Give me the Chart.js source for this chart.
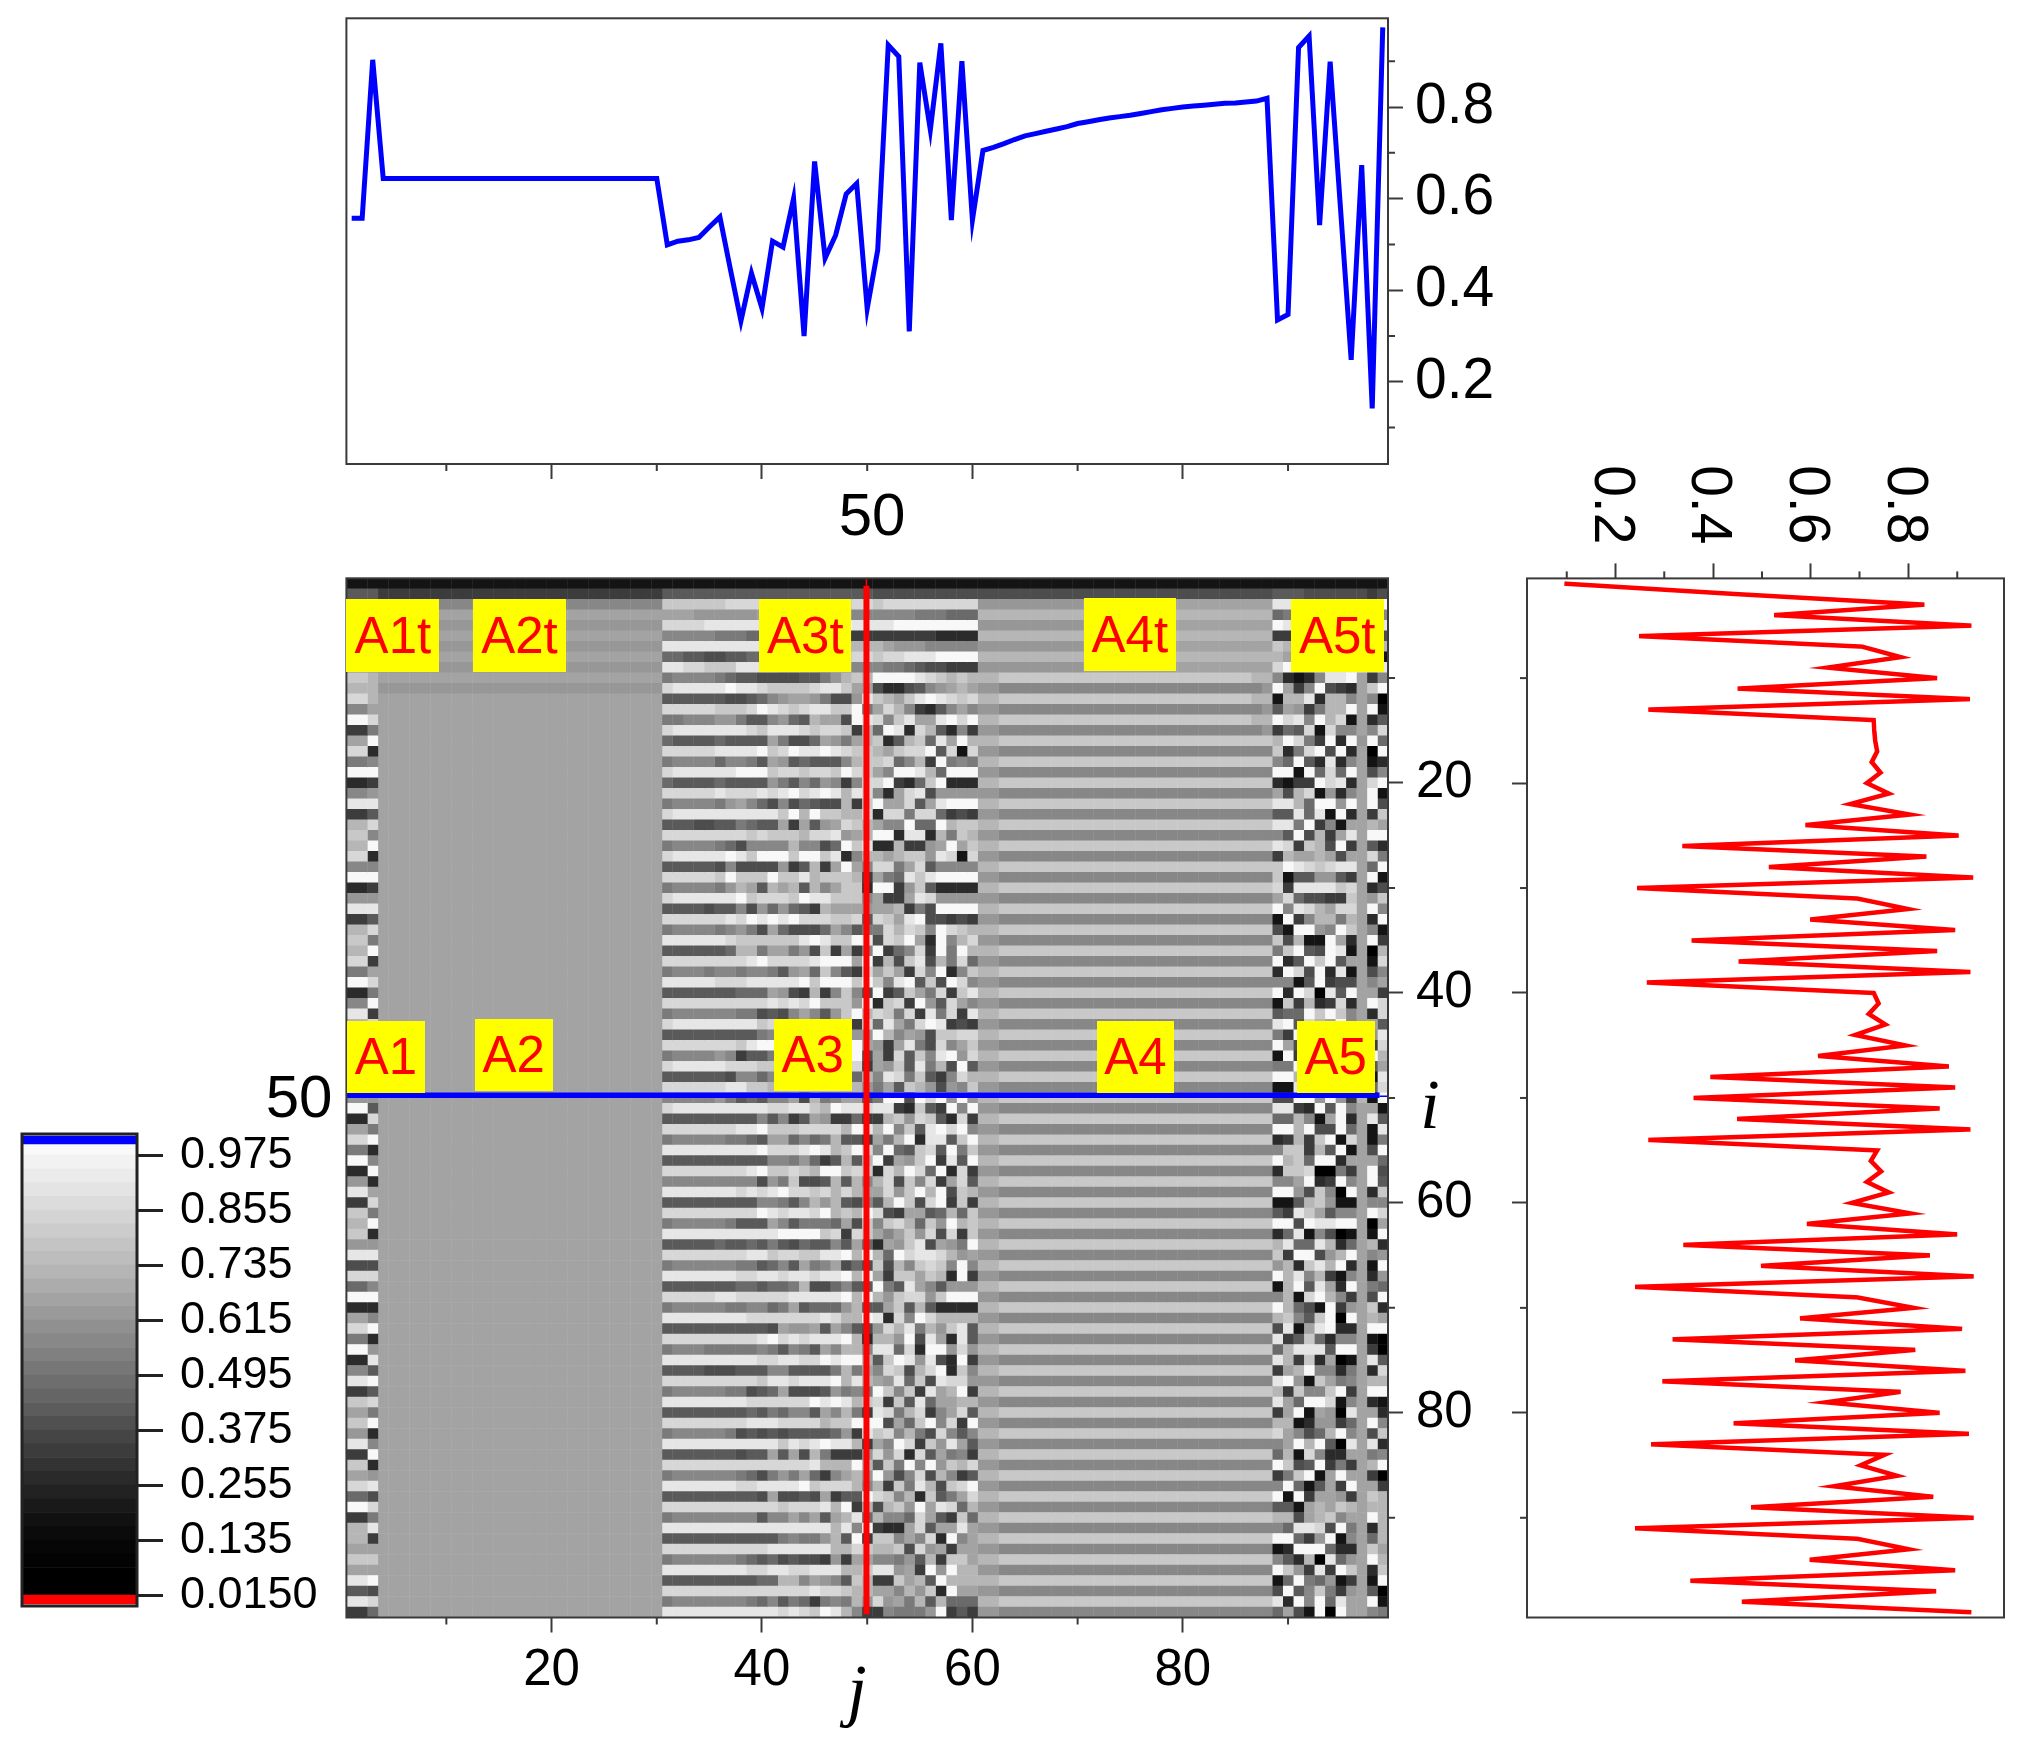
<!DOCTYPE html>
<html>
<head>
<meta charset="utf-8">
<title>j-i map</title>
<script src="https://cdn.jsdelivr.net/npm/chart.js@4/dist/chart.umd.min.js"></script>
<style>
  html, body { margin: 0; padding: 0; background: #fff; }
  #page { position: relative; width: 2032px; height: 1744px; overflow: hidden; font-family: "Liberation Sans", Arial, sans-serif; }
  canvas { position: absolute; }
  .tag { position: absolute; background: #ff0; color: #f00; font-size: 51px; text-align: center; z-index: 3; }
  .txt { position: absolute; color: #000; text-align: center; z-index: 3; white-space: nowrap; }
  .var { font-family: "Liberation Serif", serif; font-style: italic; }
</style>
</head>
<body>
<div id="page">
  <canvas id="top"></canvas>
  <canvas id="map"></canvas>
  <canvas id="side"></canvas>
  <canvas id="bar"></canvas>
</div>
<script>
// ---------- data ----------
const topJ = [1,2,3,4,5,6,7,8,9,10,11,12,13,14,15,16,17,18,19,20,21,22,23,24,25,26,27,28,29,30,31,32,33,34,35,36,37,38,39,40,41,42,43,44,45,46,47,48,49,50,51,52,53,54,55,56,57,58,59,60,61,62,63,64,65,66,67,68,69,70,71,72,73,74,75,76,77,78,79,80,81,82,83,84,85,86,87,88,89,90,91,92,93,94,95,96,97,98,99];
const topValues = [
  .557,.557,.903,.644,.644,.644,.644,.644,.644,.644,
  .644,.644,.644,.644,.644,.644,.644,.644,.644,.644,
  .644,.644,.644,.644,.644,.644,.644,.644,.644,.644,
  .499,.507,.510,.515,.538,.560,.445,.333,.437,.360,
  .507,.494,.600,.300,.681,.470,.520,.610,.633,.360,
  .488,.935,.910,.310,.897,.750,.939,.553,.900,.553,
  .705,.712,.720,.729,.737,.742,.747,.752,.757,.764,
  .768,.772,.776,.779,.782,.786,.790,.794,.797,.800,
  .802,.804,.806,.808,.809,.811,.813,.819,.335,.347,
  .930,.955,.542,.899,.574,.248,.673,.142,.974];

const sideI = topJ;
const sideValues = [
  .095,.449,.833,.525,.929,.248,.705,.784,.634,.859,
  .450,.926,.267,.729,.730,.732,.736,.725,.743,.715,
  .760,.681,.803,.589,.903,.337,.837,.514,.933,.244,
  .695,.799,.599,.896,.356,.859,.452,.927,.264,.729,
  .739,.719,.753,.691,.794,.615,.883,.394,.896,.360,
  .864,.449,.927,.267,.736,.723,.744,.715,.760,.684,
  .804,.592,.900,.339,.844,.498,.934,.240,.695,.811,
  .578,.910,.317,.814,.568,.917,.296,.784,.631,.864,
  .442,.924,.273,.751,.702,.777,.647,.851,.478,.934,
  .240,.695,.801,.598,.896,.353,.857,.459,.929];

// the two section lines on the map, each with a thin stub at its far end
const sectionRowAt = 49.75;
const sectionRowFrom = [0.5, 98.7];
const sectionRowStub = [98.7, 99.5];
const sectionColAt = 49.93;
const sectionColFrom = [1.2, 99.2];
const sectionColStub = [0.5, 1.2];

const majorTicks = [20, 40, 60, 80];
const minorTicks = [10, 30, 50, 70, 90];
const valueTicks = [0.2, 0.4, 0.6, 0.8];
const valueMinor = [0.1, 0.3, 0.5, 0.7, 0.9];

// colour bar
const barTickValues = [0.975, 0.855, 0.735, 0.615, 0.495, 0.375, 0.255, 0.135, 0.015];
const barTickLabels = ["0.975", "0.855", "0.735", "0.615", "0.495", "0.375", "0.255", "0.135", "0.0150"];
const barEdges = [0.015,0.045,0.075,0.105,0.135,0.165,0.195,0.225,0.255,0.285,0.315,0.345,0.375,0.405,0.435,0.465,0.495,0.525,0.555,0.585,0.615,0.645,0.675,0.705,0.735,0.765,0.795,0.825,0.855,0.885,0.915,0.945,0.975,0.999];
const barGrays = ["#000000","#000000","#030303","#060606","#0b0b0b","#111111","#191919","#222222","#2a2a2a","#333333","#3c3c3c","#454545","#505050","#5c5c5c","#656565","#6e6e6e","#777777","#808080","#888888","#909090","#9a9a9a","#a3a3a3","#acacac","#b5b5b5","#bdbdbd","#c4c4c4","#cccccc","#d4d4d4","#dcdcdc","#e4e4e4","#ebebeb","#f2f2f2","#f9f9f9","#ffffff"];
const barOver = [0.999, 1.0165];
const barUnder = [-0.0046, 0.015];

// grey steps used by the map cells, one hex digit per cell below
const grayLevels = ["#000000","#141414","#2b2b2b","#3c3c3c","#4d4d4d","#5a5a5a","#6a6a6a","#7a7a7a","#878787","#979797","#a3a3a3","#b6b6b6","#c8c8c8","#d7d7d7","#e6e6e6","#f8f8f8"];

// j = 1..3, one token per row i
const levelsA1 = ("111 555 888 aaa 999 aaa 999 aaa 999 ccb " +
  "bbb ddb 88a ffd 337 aaf dd2 778 fff 223 " +
  "889 eee 335 bbd cc8 bbf dd2 888 fff 223 " +
  "999 eee 335 bbd cc7 bbf dd3 77a ffd 227 " +
  "88f ee3 bbd 778 ffe 333 bbc 99a dd7 999 " +
  "ff5 22d aa7 ddf 772 ff8 22f 992 eea 33d " +
  "cc7 bbf cc2 999 eee 444 ddd 668 fff 222 " +
  "aa8 ddf 772 ff9 22e 885 eef 335 ccd aa7 " +
  "ccf 992 ee8 33f cc2 aa9 dde 664 ffd 337 " +
  "bbe bb3 aaa ccc aaa eef 554 eed 336").split(" ");

// j = 4..30
const levelsA2Top = "138a9a9a9a9a";
const levelA2Plateau = "a";

// j = 31..60, one string per row i
const levelsA3 = [
  "111111111111111111111111111111",
  "555555555555555555554444444444",
  "ccccccdddddddddcccddcddddddddd",
  "aaa999999aaa9a98a9888888777666",
  "ddddeeeeeeeedeeedfeeeeffffffff",
  "888887776654444443333333332222",
  "eeeeeeeeeeedcddccbbbba99988888",
  "66554455664566799cddcddeeeffff",
  "eeddccceeeeddccbba888776544333",
  "78888765544445579bcbffffedcbcb",
  "deeeeefeedccccdeecaa4224589aba",
  "555555445689aa97449ecbacefedcd",
  "dddddcccdfedcdeeccf7adb83258a8",
  "77888997558965baa4fed8ceaaefdf",
  "deeeeeeedceeedcddc3b6fe2db5283",
  "6555565555a7446a97abc25bc6eafb",
  "dddddeeeefcdfeefedccbacddf5d1d",
  "7888868875a9565558bccd68b3f787",
  "deeeeeefffcddcddcfdca8ffeb6fff",
  "6555565555975869838ddf326cf222",
  "dddddedddedefdefebed82ade49999",
  "7888879a864846544b3cfaad5aefff",
  "deeeeeeeeeecfbfccbbd2dd7dd6343",
  "55544557655a3a59adcba88f66fbcc",
  "ddddddddcdcccbdde9abff2ee2b7cb",
  "788887648888b8846fce22b339afac",
  "deeeeefecfffcffce28bbabcc9ed1d",
  "55555484444935b3afa8dd7ad58888",
  "dddddcfcccfccebcccb3a76eceffff",
  "7888879ba5bab5b8acc2ff39c52222",
  "deeeeeefcdddcfeeccc8a33aed9999",
  "555545584969653baaa9aab374ffff",
  "ddddddedfefefdddccd5dcaef44343",
  "7888878974a64446a8577dbdc8fdcb",
  "eeeeeedccccccefeccfe4dcfa2f8bd",
  "5555556bb7aa794c3a38f368d3f7fb",
  "ddddddddefddddefffaf3b4ce4b7d6",
  "7888788788759a6c853daca3d8f28c",
  "eeeeedddeeeeefcfffcfc8ef5c4fd8",
  "5555555666a943b38c84f35ca7d3ce",
  "ddddddddddededfccc9f2cd3f95da8",
  "7888888774548a859cfbdc7d3e7d3e",
  "deeeeeeeecdccccccc3d6ea7dfe343",
  "55555555578799999999fb8a94ccdd",
  "dddddddceffffffffffa93ae74d8ac",
  "788889835577777777f4a3d5c8ef9d",
  "deeeeedddcccccccccd3a9c5e7b4f5",
  "55555548868888888a6b8ed7c538db",
  "ddddddeeccbbbbbbbbb97a5cb9498c",
  "888889756588a4b78aa57ff4fdf9f9",
  "deeeeeeeeeddeecbfeedee32c53f8f",
  "55555555585835a933633bc9dc52d3",
  "dddddddeefcccddddbfebf8c5efdf8",
  "7888887765aa6867b553a7bf2ee5cf",
  "eeeeeeeeefdddefebcfd8f65cd5f7c",
  "55555555558879635b5bf3a9cf3e5f",
  "ddddddddefccdcbffcdc2dbfd6f2d3",
  "888888888497c445b5b8bd4c8d3ad5",
  "eeeeeeededefddcdbdbaad9cfbf4cb",
  "55555555588758b9b5485bfc4df3c3",
  "dddddddddfedeedfbcbfd43aa56b6c",
  "7888887555a857776a4c8cdb6c9fbc",
  "eeeeeeeeeeeffffcd3dca8ac9d4d3c",
  "555556556575465585a62a9ce4a97f",
  "ddddddddeecddcceefbfb6fdeedb9a",
  "7888888775685a78a464c4b8cdc8f8",
  "eeeeeeeddeedeedeefbfa3ccacb2f3",
  "5555555665667b446855f75ea85999",
  "dddddeedddddeeeeefbfb9cdd9cfff",
  "788888778867a56669b55ac5b52222",
  "eeeeeeeedddddddedbbfe2d8fdbbbb",
  "55555555554a99a5a8549dbe7b9ce5",
  "dddddddddefdedeeefb2bb9f4ea2e5",
  "788877777875875a8bb8ee6d2ff9d9",
  "eeeeeeeeeddeeddfeffb5cfe9e42f3",
  "55554445558855557b7a8dc4bdf2c8",
  "dddddddddceedeeefbeba9e6c4edd9",
  "78888877456a44459787fc8c3eabf3",
  "eeeeeeeeddddddfefebcd3c5e6aabb",
  "555555556576885a8b73ed7bd38ad5",
  "ddddddddeeeddddbccfff4a6cf8d3f",
  "7888887454545555693ecd8b74d858",
  "eeeeeeeeeeecedefeeb3a8fd3c9ea5",
  "5555555455a5a4b73339d9d2d5a783",
  "ddddddddddddddebbbfb5c7f8f9cbd",
  "7888888764797a638ab9f948d4b835",
  "eeeeeeeddeeeefcdddb8b3c7eb4cdf",
  "5555555554a4454a355fdc8b2c57ad",
  "dddddddddddcdddebf3b4bc9faed6b",
  "788888888588a8a5abe6b886da53c6",
  "eeeeeeeeeeeeeeeebe8f322ad5aaea",
  "5555555555578779b5f3cc8a8d2f8a",
  "ddddddddddeeeeeebbdcbbc4d9a3aa",
  "788888876564544393aa88795b3cca",
  "eeeeeeeeddeeddeeebbcee9a3f9fbb",
  "55555555566bb8a985cb33cab5fbbb",
  "ddddddddddddddeddcbbaa8b9c2faa",
  "788888887685763787b9d9a7b5b666",
  "eeeeeeeeeeededcfeb83387779f353"
];

// j = 61..88, stripes that run the whole block; rowsA4 picks one per row i
const stripesA4 = [
  "1111111111111111111111111111",
  "4444444444444444444444444444",
  "9999999999aaaaaaaaaaaaaaaaaa",
  "bbbbbbbbbbbbbbbbbbbbbbbbbbbb",
  "bbccccccccccccccccccccccccbb",
  "9988888888888888888888888889",
  "bbcccccccccccccccccccccccccc",
  "9988888888888888888888888888"
];
const rowsA4 = "012323232" + "454545" +
  "67676767676767676767" +
  "67676767676767676767" +
  "67676767676767676767" +
  "67676767676767676767" +
  "6767";

// j = 89..99, one string per row i
const levelsA5 = [
  "11111111111","55544444434","eefffffffff","67888888888","feeeeeeeeee","33444444444","cbbbbbbbbbb","baaaaaaaaa1","dfeeeeeeeee","82128eefa38",
  "fa38f432acf","1bbe2bb8a80","5a937bbfaf1","fde8fbd1a25","365d1d88a8d","bfd73f2f9f6","c27df4f2a0f","86f52e28a12","ff1f6d6fa48","2133fde2adf",
  "a4bd1928af1","eeb6ff9faf4","55e6e1f2a3c","ee7f381aaba","85f4b3aeaff","ed3cb4f3a52","3baaba4aad7","cfedcdeea6f","c1559953af1","d3eeeecda24",
  "ad64433ca9c","f8edbaddaf8","1f38bb7ba2f","41ff98fca81","c4b11fa2af3","7cf54fe1a0b","f25fcf5aa1d","2fd4f2e1a48","8815f344a8a","f2fd0e5faa3",
  "1c3b23d2afd","566fcfc8a2d","ef5dbaf8aa5","73f29dcfa9e","fa44dc2aa3d","1f3dcf7aafb","77fa48dfa5a","ffb5f2eaa1e","11e7c9f4a6d","44ff9f93b1f",
  "ee32f5f8aa1","66b81af2ae5","ffbf44f6a1e","23b3cf1da17","8cc3b5f1a4f","fbc6ff2aaa6","2ccd0073af4","88af23f8af5","ff94c80fa2c","115bc911a88",
  "53eca588afd","ff4feeffa0a","26e18401a1f","be66eb26ab2","c3ff49bfa89","9b2cebf2a1f","fbe8b318a29","1bf5ea2fa76","8b1dfb83a4f","fb641f39ac2",
  "bc85cf0faba","4e1aef22aff","e35c6288a10","6beee5ffa30","eb3c2a01ae5","3abf8827a2d","ef91ca78abb","b3c88cf3aff","ea6ffd18a21","3af1a90eaa2",
  "bb129936af8","da846bf8a4c","8afbf50eae2","6b1d822aa78","fc45f373abf","37cf1afaa30","8f615a3faa3","f1f3aa93acb","551abacbabb","bb4abc8aafb",
  "86eed4f7a2b","ff639f18a6b","12fff622aca","852b0e69afb","fc93e3fca2c","16f76913a1f","4f58c739a50","e2f8f6eaaf1","6a41f0faa87"
];

// ---------- helpers ----------
const axisColor = "#3a3a3a";
const BLUE = "#0000ff";
const RED = "#ff0000";
const page = document.getElementById("page");

Chart.defaults.font.family = '"Liberation Sans", Arial, sans-serif';
Chart.defaults.color = "#000";

function fixedTicks(values) {
  return (s) => {
    s.ticks = values.map((v) => ({ value: v }));
  };
}
// fix the room an axis takes, and stop it pushing the plot in for half a label
function fixedSize(prop, size) {
  return (s) => {
    s[prop] = size;
    s.paddingTop = s.paddingBottom = s.paddingLeft = s.paddingRight = 0;
  };
}
function placeCanvas(id, x, y, w, h) {
  const c = document.getElementById(id);
  c.width = w;
  c.height = h;
  c.style.left = x + "px";
  c.style.top = y + "px";
  return c;
}
function cellLevel(i, j) {
  if (j <= 3) return levelsA1[i - 1][j - 1];
  if (j <= 30) return levelsA2Top[i - 1] || levelA2Plateau;
  if (j <= 60) return levelsA3[i - 1][j - 31];
  if (j <= 88) return stripesA4[+rowsA4[i - 1]][j - 61];
  return levelsA5[i - 1][j - 89];
}
function addText(cls, text, cx, cy, size) {
  const d = document.createElement("div");
  d.className = cls;
  d.textContent = text;
  d.style.fontSize = size + "px";
  d.style.lineHeight = size + "px";
  d.style.left = cx - 100 + "px";
  d.style.width = "200px";
  d.style.top = cy - size / 2 + "px";
  page.appendChild(d);
}
function mapLine(points, color, width) {
  return { type: "scatter", data: points, showLine: true, borderColor: color, borderWidth: width, pointRadius: 0 };
}

// box round the plot and the short ticks (Chart.js has one tick length per axis)
const boxAndMinor = {
  id: "boxAndMinor",
  afterDraw(chart, args, o) {
    const { ctx, chartArea: a, scales } = chart;
    ctx.save();
    ctx.strokeStyle = o.color || axisColor;
    ctx.lineWidth = o.width || 2;
    ctx.strokeRect(a.left, a.top, a.right - a.left, a.bottom - a.top);
    ctx.lineWidth = 2;
    ctx.strokeStyle = axisColor;
    ctx.beginPath();
    (o.x || []).forEach((v) => {
      const p = scales.x.getPixelForValue(v);
      ctx.moveTo(p, a.bottom);
      ctx.lineTo(p, a.bottom + 7);
    });
    (o.y || []).forEach((v) => {
      const p = scales.y.getPixelForValue(v);
      const edge = scales.y.position === "left" ? a.left : a.right;
      const dir = scales.y.position === "left" ? -1 : 1;
      ctx.moveTo(edge, p);
      ctx.lineTo(edge + dir * 7, p);
    });
    ctx.stroke();
    ctx.restore();
  },
};

function baseOptions(padding) {
  return {
    responsive: false,
    animation: false,
    events: [],
    layout: { autoPadding: false, padding },
    plugins: { legend: { display: false }, tooltip: { enabled: false } },
  };
}
function tickGrid(len) {
  return {
    offset: false,
    drawOnChartArea: false,
    drawTicks: true,
    tickLength: len,
    tickWidth: 2,
    tickColor: axisColor,
  };
}

// ---------- top profile, row i = 50 ----------
placeCanvas("top", 342, 14, 1170, 470);
new Chart(document.getElementById("top"), {
  type: "scatter",
  data: {
    datasets: [
      {
        data: topJ.map((j, k) => ({ x: j, y: topValues[k] })),
        showLine: true,
        borderColor: BLUE,
        borderWidth: 5,
        pointRadius: 0,
        tension: 0,
      },
    ],
  },
  options: {
    ...baseOptions({ left: 4.4, top: 4.3 }),
    scales: {
      x: {
        type: "linear",
        offset: false,
        min: 0.5,
        max: 99.5,
        afterBuildTicks: fixedTicks(majorTicks),
        afterFit: fixedSize("height", 20),
        ticks: { display: false, autoSkip: false },
        border: { display: false },
        grid: tickGrid(15),
      },
      y: {
        position: "right",
        min: 0.0205,
        max: 0.9937,
        afterBuildTicks: fixedTicks(valueTicks),
        afterFit: fixedSize("width", 124),
        ticks: { autoSkip: false, padding: 12, font: { size: 57 }, callback: (v) => v.toFixed(1) },
        border: { display: false },
        grid: tickGrid(15),
      },
    },
    plugins: {
      legend: { display: false },
      tooltip: { enabled: false },
      boxAndMinor: { x: minorTicks, y: valueMinor },
    },
  },
  plugins: [boxAndMinor],
});

// ---------- the map ----------
const mapDatasets = [
  mapLine(sectionColFrom.map((i) => ({ x: sectionColAt, y: i })), RED, 6),
  mapLine(sectionColStub.map((i) => ({ x: sectionColAt, y: i })), RED, 1.5),
  mapLine(sectionRowFrom.map((j) => ({ x: j, y: sectionRowAt })), BLUE, 5.5),
  mapLine(sectionRowStub.map((j) => ({ x: j, y: sectionRowAt + 0.1 })), BLUE, 1.5),
];
for (let j = 1; j <= 99; j++) {
  const cells = [];
  const colors = [];
  for (let i = 1; i <= 99; i++) {
    cells.push({ x: [j - 0.52, j + 0.52], y: i });
    colors.push(grayLevels[parseInt(cellLevel(i, j), 16)]);
  }
  mapDatasets.push({
    type: "bar",
    indexAxis: "y",
    data: cells,
    backgroundColor: colors,
    borderWidth: 0,
    grouped: false,
    barPercentage: 1,
    categoryPercentage: 1.05,
  });
}
placeCanvas("map", 342, 574, 1142, 1126);
new Chart(document.getElementById("map"), {
  type: "bar",
  data: { datasets: mapDatasets },
  options: {
    ...baseOptions({ left: 4.4, top: 4.3 }),
    scales: {
      x: {
        type: "linear",
        offset: false,
        min: 0.5,
        max: 99.5,
        afterBuildTicks: fixedTicks(majorTicks),
        afterFit: fixedSize("height", 82.5),
        ticks: { autoSkip: false, maxRotation: 0, padding: 8, font: { size: 51 }, callback: (v) => String(v) },
        border: { display: false },
        grid: tickGrid(15),
      },
      y: {
        type: "linear",
        offset: false,
        position: "right",
        reverse: true,
        min: 0.5,
        max: 99.5,
        afterBuildTicks: fixedTicks(majorTicks),
        afterFit: fixedSize("width", 96),
        ticks: { autoSkip: false, padding: 13, font: { size: 51 }, callback: (v) => String(v) },
        border: { display: false },
        grid: tickGrid(15),
      },
    },
    plugins: {
      legend: { display: false },
      tooltip: { enabled: false },
      boxAndMinor: { x: minorTicks, y: minorTicks },
    },
  },
  plugins: [boxAndMinor],
});

// ---------- side profile, column j = 50 ----------
// drawn as a normal chart and turned 90deg clockwise, so i runs down and the labels read downwards
const sideW = 1160, sideH = 510, sideX = 1500, sideY = 463;
const sideCanvas = placeCanvas("side", 0, 0, sideW, sideH);
sideCanvas.style.transformOrigin = "0 0";
sideCanvas.style.transform = "translate(" + (sideX + sideH) + "px," + sideY + "px) rotate(90deg)";
new Chart(sideCanvas, {
  type: "scatter",
  data: {
    datasets: [
      {
        data: sideI.map((i, k) => ({ x: i, y: sideValues[k] })),
        showLine: true,
        borderColor: RED,
        borderWidth: 4.5,
        pointRadius: 0,
        tension: 0,
      },
    ],
  },
  options: {
    ...baseOptions({ top: 6, right: 5.5 }),
    scales: {
      x: {
        type: "linear",
        offset: false,
        min: 0.5,
        max: 99.5,
        afterBuildTicks: fixedTicks(majorTicks),
        afterFit: fixedSize("height", 27),
        ticks: { display: false, autoSkip: false },
        border: { display: false },
        grid: tickGrid(15),
      },
      y: {
        min: 0.0185,
        max: 0.996,
        afterBuildTicks: fixedTicks(valueTicks),
        afterFit: fixedSize("width", 115.4),
        ticks: { autoSkip: false, padding: 19, labelOffset: 5, font: { size: 57 }, callback: (v) => v.toFixed(1) },
        border: { display: false },
        grid: tickGrid(15),
      },
    },
    plugins: {
      legend: { display: false },
      tooltip: { enabled: false },
      boxAndMinor: { x: minorTicks, y: valueMinor },
    },
  },
  plugins: [boxAndMinor],
});

// ---------- colour bar ----------
const barDatasets = [
  { data: [barOver], backgroundColor: BLUE },
  { data: [barUnder], backgroundColor: RED },
];
barGrays.slice(0, barEdges.length - 1).forEach((g, k) => {
  barDatasets.push({ data: [[barEdges[k], barEdges[k + 1]]], backgroundColor: g });
});
placeCanvas("bar", 18, 1130, 330, 480);
new Chart(document.getElementById("bar"), {
  type: "bar",
  data: {
    labels: ["level"],
    datasets: barDatasets.map((d) => ({ ...d, grouped: false, barPercentage: 1, categoryPercentage: 1, borderWidth: 0 })),
  },
  options: {
    ...baseOptions({ left: 4, top: 4, bottom: 4 }),
    scales: {
      x: { display: false },
      y: {
        position: "right",
        min: -0.009,
        max: 1.0209,
        afterBuildTicks: fixedTicks(barTickValues),
        afterFit: fixedSize("width", 211),
        ticks: { autoSkip: false, padding: 17, labelOffset: 1, font: { size: 45 }, callback: (v, k) => barTickLabels[k] },
        border: { display: false },
        grid: { drawOnChartArea: false, drawTicks: true, tickLength: 26, tickWidth: 3, tickColor: "#222" },
      },
    },
    plugins: {
      legend: { display: false },
      tooltip: { enabled: false },
      boxAndMinor: { color: "#222", width: 3 },
    },
  },
  plugins: [boxAndMinor],
});

// ---------- texts over the plots ----------
[
  ["A1t", 346.4, 599, 93, 73],
  ["A2t", 473, 599, 93, 73],
  ["A3t", 759.3, 599, 92, 73],
  ["A4t", 1083.6, 597.5, 92.4, 73],
  ["A5t", 1290.7, 599, 93, 73],
  ["A1", 347, 1021, 78, 72],
  ["A2", 475, 1019, 77.5, 72],
  ["A3", 773.6, 1019, 78, 72],
  ["A4", 1096.8, 1021, 77.5, 72],
  ["A5", 1297, 1021, 77.5, 72],
].forEach(([t, x, y, w, h]) => {
  const d = document.createElement("div");
  d.className = "tag";
  d.textContent = t;
  d.style.cssText = `left:${x}px;top:${y}px;width:${w}px;height:${h}px;line-height:${h}px`;
  page.appendChild(d);
});
addText("txt", "50", 872, 515, 60);
addText("txt", "50", 299, 1097, 60);
addText("txt var", "i", 1430, 1105, 70);
addText("txt var", "j", 857, 1690, 70);
</script>
</body>
</html>
